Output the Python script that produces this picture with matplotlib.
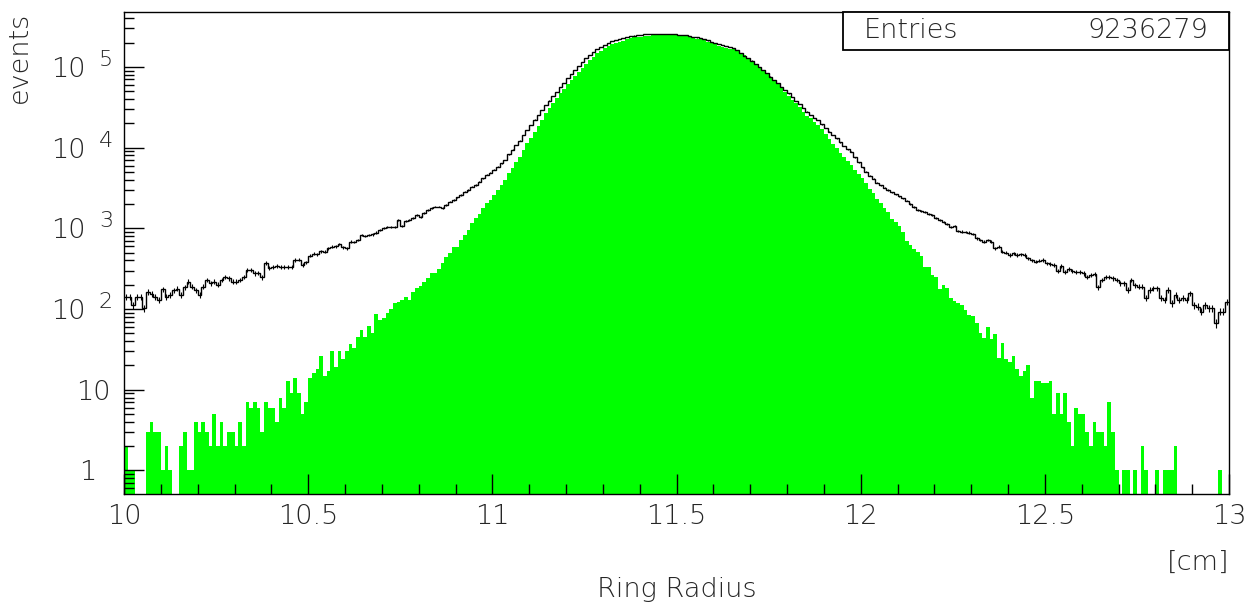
import numpy as np
import matplotlib
matplotlib.use("Agg")
import matplotlib.pyplot as plt
from matplotlib.ticker import MultipleLocator, LogLocator, NullFormatter, FormatStrFormatter
from matplotlib.transforms import blended_transform_factory, offset_copy
from matplotlib.patches import Rectangle

# ring radius histogram: 300 bins of 0.01 cm between 10 and 13 cm
r_lo, r_hi, nbins = 10.0, 13.0, 300
edges = np.linspace(r_lo, r_hi, nbins + 1)
entries = 9236279

# all reconstructed rings (black outline), counts per bin
all_rings = [
    141, 141, 112, 142, 142, 103, 163, 154, 141, 130,
    177, 141, 149, 170, 179, 150, 186, 218, 190, 170,
    150, 190, 230, 210, 218, 200, 230, 252, 240, 218,
    218, 230, 252, 303, 303, 276, 280, 248, 370, 320,
    335, 340, 330, 330, 330, 330, 405, 410, 355, 380,
    460, 485, 480, 520, 514, 566, 595, 600, 641, 580,
    566, 685, 680, 718, 828, 800, 828, 840, 885, 955,
    1000, 1050, 1040, 1050, 1270, 1070, 1240, 1270, 1333, 1466,
    1400, 1540, 1690, 1780, 1860, 1860, 1780, 1950, 2140, 2240,
    2430, 2594, 2850, 2990, 3290, 3450, 3790, 4180, 4590, 4900,
    5300, 5820, 6410, 7040, 8300, 9400, 10800, 12200, 14400, 16600,
    19100, 22200, 25400, 29300, 33800, 38300, 43700, 49400, 56000, 63800,
    72400, 81200, 91800, 103000, 116000, 128000, 141000, 155000, 166000, 178000,
    189000, 200000, 208000, 216000, 222000, 229000, 233000, 240000, 245000, 249000,
    251000, 254000, 256000, 257000, 257000, 257000, 256000, 256000, 255000, 254000,
    252000, 250000, 247000, 243000, 238000, 232000, 226000, 220000, 213000, 206000,
    199000, 192000, 186000, 181000, 176000, 171000, 162000, 150000, 138000, 128000,
    120000, 110000, 101000, 92000, 84000, 76000, 69000, 63000, 57000, 51900,
    47000, 42500, 38000, 34500, 31000, 28000, 25500, 23500, 22000, 19500,
    17500, 15800, 14400, 13000, 11600, 10500, 9500, 8900, 7600, 6600,
    5700, 5000, 4500, 4100, 3700, 3400, 3200, 3000, 2800, 2650,
    2500, 2350, 2200, 2000, 1850, 1700, 1650, 1600, 1520, 1450,
    1350, 1260, 1210, 1130, 1040, 1070, 937, 911, 894, 886,
    853, 754, 719, 686, 719, 686, 566, 594, 515, 501,
    469, 492, 469, 480, 469, 427, 400, 388, 398, 406,
    369, 362, 352, 299, 342, 291, 311, 299, 291, 291,
    277, 252, 265, 270, 186, 230, 252, 252, 241, 230,
    209, 209, 173, 230, 199, 190, 190, 136, 173, 181,
    181, 136, 130, 173, 118, 150, 130, 136, 130, 157,
    112, 107, 93, 112, 102, 102, 67, 93, 93, 124,
]

# selected rings (green fill)
selected = [
    2, 1, 1, 0, 0, 0, 3, 4, 3, 3,
    1, 2, 1, 0, 0, 2, 3, 1, 1, 4,
    3, 4, 3, 2, 5, 2, 4, 2, 3, 3,
    2, 4, 2, 7, 6, 7, 6, 3, 7, 6,
    6, 4, 8, 6, 13, 9, 14, 9, 5, 7,
    14, 16, 18, 26, 15, 17, 30, 19, 30, 24,
    30, 37, 33, 45, 55, 45, 61, 51, 87, 73,
    78, 89, 99, 118, 121, 130, 143, 130, 164, 181,
    195, 219, 241, 277, 277, 314, 369, 446, 500, 593,
    593, 718, 828, 955, 1155, 1333, 1508, 1773, 2046, 2248,
    2594, 2992, 3400, 3950, 4820, 5560, 6710, 7740, 9380, 11300,
    13100, 15800, 18300, 22200, 26800, 30900, 35600, 40900, 47300, 53400,
    61000, 69000, 77300, 87500, 98000, 109000, 122000, 134000, 148000, 159000,
    170000, 182000, 191000, 196000, 202000, 210000, 220000, 227000, 233000, 236000,
    238000, 242000, 244000, 246000, 249000, 249000, 250000, 251000, 250000, 249000,
    247000, 244000, 240000, 235000, 230000, 225000, 220000, 214000, 205000, 196000,
    190000, 183000, 176000, 172000, 169000, 165000, 158000, 150000, 140000, 128000,
    116000, 106000, 97000, 90000, 84000, 76000, 68000, 61000, 55000, 49400,
    44000, 39500, 35500, 31500, 27500, 25000, 23100, 21000, 19100, 16800,
    14800, 12800, 11200, 10000, 8700, 7600, 6800, 6100, 5300, 4700,
    4200, 3620, 3100, 2750, 2300, 2050, 1800, 1600, 1300, 1200,
    1070, 900, 700, 630, 560, 515, 460, 335, 330, 265,
    253, 178, 199, 181, 136, 127, 120, 113, 98, 85,
    81, 67, 50, 44, 60, 42, 49, 25, 38, 24,
    22, 26, 18, 15, 17, 20, 8, 13, 13, 12,
    12, 13, 5, 9, 5, 9, 4, 2, 6, 5,
    5, 3, 2, 4, 3, 3, 2, 7, 3, 1,
    0, 1, 1, 0, 1, 0, 2, 1, 0, 0,
    1, 0, 1, 1, 1, 2, 0, 0, 0, 0,
    0, 0, 0, 0, 0, 0, 0, 1, 0, 0,
]

W, H = 1254, 605
FONT = dict(family=["DejaVu Sans"], fontweight=200, color="#262626")
FS = 19.5

fig = plt.figure(figsize=(W / 100, H / 100), dpi=100)
# axes box in pixels: x 124..1229, y 12..494
ax = fig.add_axes([124 / W, 1 - 494 / H, 1105 / W, 482 / H])

black = np.array(all_rings, dtype=float)
green = np.array(selected, dtype=float)
centers = 0.5 * (edges[:-1] + edges[1:])

ax.stairs(green, edges, fill=True, baseline=0.3, color="#00ff00", lw=0)
ax.stairs(black, edges, baseline=None, color="black", lw=1.0)
ax.errorbar(centers, black, yerr=np.sqrt(black), fmt="none", ecolor="black", elinewidth=0.8)

ax.set_yscale("log")
ax.set_xlim(r_lo, r_hi)
ax.set_ylim(0.511, 4.8e5)

for s in ax.spines.values():
    s.set_linewidth(1.0)
    s.set_color("black")

ax.xaxis.set_major_locator(MultipleLocator(0.5))
ax.xaxis.set_minor_locator(MultipleLocator(0.1))
ax.xaxis.set_major_formatter(FormatStrFormatter("%g"))
ax.yaxis.set_major_locator(LogLocator(base=10, numticks=20))
ax.yaxis.set_minor_locator(LogLocator(base=10, subs=np.arange(2, 10), numticks=20))
ax.yaxis.set_major_formatter(NullFormatter())
ax.yaxis.set_minor_formatter(NullFormatter())
ax.tick_params(which="both", direction="in", top=False, right=False, color="black", width=1.0)
ax.tick_params(which="major", length=14.5)
ax.tick_params(which="minor", length=7.5)
ax.tick_params(axis="x", which="major", pad=7)
for lab in ax.get_xticklabels():
    lab.set_fontfamily(FONT["family"])
    lab.set_fontweight(FONT["fontweight"])
    lab.set_fontsize(FS)
    lab.set_color(FONT["color"])

# y tick labels in the PAW style: 1, 10, 10^2 ...
trans = blended_transform_factory(fig.transFigure, ax.transData)
for k in range(0, 6):
    v = 10.0 ** k
    base_tr = offset_copy(trans, fig=fig, x=0, y=-10, units="dots")
    if k == 0:
        ax.text(88 / W, v, "1", transform=base_tr, ha="center", va="baseline", fontsize=FS, **FONT)
    elif k == 1:
        ax.text(93 / W, v, "10", transform=base_tr, ha="center", va="baseline", fontsize=FS, **FONT)
    else:
        ax.text(86 / W, v, "10", transform=base_tr, ha="right", va="baseline", fontsize=FS, **FONT)
        exp_tr = offset_copy(trans, fig=fig, x=0, y=1.0, units="dots")
        ax.text(99 / W, v, str(k), transform=exp_tr, ha="left", va="baseline", fontsize=FS - 3.5, **FONT)

# statistics box
fig.add_artist(Rectangle((843 / W, 1 - 50 / H), (1229 - 843) / W, 38 / H,
                         transform=fig.transFigure, facecolor="white", edgecolor="black", lw=1.3))
fig.text(864 / W, 1 - 31 / H, "Entries", ha="left", va="center", fontsize=FS, **FONT)
fig.text(1208 / W, 1 - 31 / H, f"{entries}", ha="right", va="center", fontsize=FS, **FONT)

fig.text(19 / W, 1 - 12 / H, "events", rotation=90, ha="center", va="top", fontsize=FS, **FONT)
fig.text(677 / W, 1 - 589 / H, "Ring Radius", ha="center", va="center", fontsize=FS, **FONT)
fig.text(1229 / W, 1 - 562 / H, "[cm]", ha="right", va="center", fontsize=FS, **FONT)

fig.savefig("out.png", dpi=100, facecolor="white")
